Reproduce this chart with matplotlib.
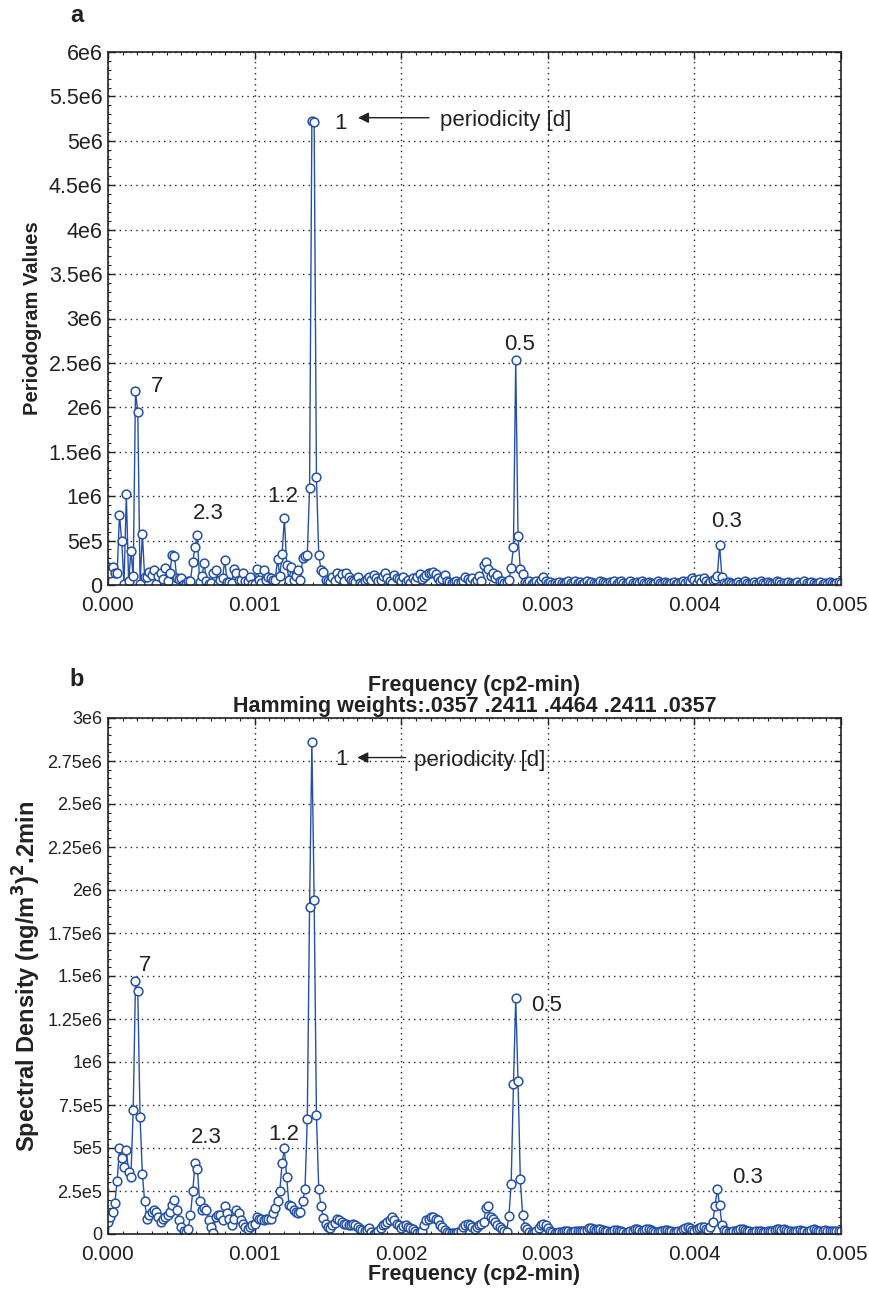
import matplotlib
matplotlib.use("Agg")
import matplotlib.pyplot as plt
import numpy as np
from matplotlib.ticker import MultipleLocator, FixedLocator, FixedFormatter

plt.rcParams['font.family'] = ['Liberation Sans', 'DejaVu Sans']

# frequency axis (cycles per 2-min), 321 bins from 0 to 0.005
freq = np.linspace(0, 0.005, 321)

# periodogram values, units of 1e5
per_a = [
    2.0, 1.35, 2.0, 1.4, 1.3, 7.9, 4.9, 0.1, 10.2, 0.4,
    3.8, 1.0, 21.8, 19.5, 0.1, 5.7, 0.9, 0.9, 1.5, 1.1,
    1.7, 0.1, 1.0, 1.3, 0.7, 1.9, 0.5, 1.3, 3.4, 3.3,
    0.8, 0.7, 0.8, 0.1, 0.1, 0.4, 0.5, 2.6, 4.3, 5.6,
    0.3, 1.0, 2.5, 0.4, 0.1, 0.2, 1.3, 1.7, 0.1, 0.6,
    0.8, 2.8, 0.3, 0.3, 0.2, 1.8, 1.4, 0.6, 0.6, 1.4,
    0.5, 0.4, 0.9, 0.1, 0.1, 1.8, 0.6, 0.2, 1.7, 0.6,
    0.9, 0.8, 0.6, 0.6, 2.9, 1.0, 3.5, 7.5, 2.3, 0.6,
    2.0, 0.6, 1.0, 1.7, 0.6, 3.0, 3.3, 3.4, 10.9, 52.2,
    52.1, 12.2, 3.4, 1.7, 1.5, 0.6, 0.5, 0.3, 0.9, 0.4,
    1.4, 0.8, 1.2, 0.5, 1.3, 0.9, 0.6, 0.4, 0.3, 0.9,
    0.2, 0.1, 0.5, 0.7, 0.9, 0.6, 1.1, 0.8, 0.4, 0.6,
    1.0, 1.3, 0.8, 0.5, 0.2, 1.1, 0.8, 0.7, 0.4, 0.9,
    0.3, 0.6, 0.2, 0.8, 0.5, 0.9, 1.2, 0.7, 0.9, 1.1,
    1.3, 1.4, 1.5, 1.2, 0.8, 0.4, 0.7, 1.1, 0.5, 0.3,
    0.2, 0.3, 0.4, 0.2, 0.3, 0.5, 0.9, 0.7, 0.4, 0.8,
    0.3, 0.6, 1.0, 0.4, 2.3, 2.6, 1.8, 1.0, 1.3, 0.8,
    1.1, 0.5, 0.4, 0.2, 0.3, 0.6, 1.9, 4.3, 25.3, 5.5,
    1.8, 1.2, 0.3, 0.2, 0.5, 0.1, 0.3, 0.4, 0.2, 0.6,
    0.9, 0.4, 0.2, 0.3, 0.1, 0.2, 0.1, 0.3, 0.2, 0.1,
    0.3, 0.5, 0.2, 0.1, 0.4, 0.2, 0.3, 0.1, 0.2, 0.4,
    0.1, 0.3, 0.2, 0.1, 0.2, 0.5, 0.3, 0.2, 0.1, 0.3,
    0.2, 0.4, 0.1, 0.3, 0.5, 0.2, 0.1, 0.2, 0.4, 0.2,
    0.1, 0.3, 0.2, 0.5, 0.2, 0.1, 0.3, 0.2, 0.1, 0.2,
    0.4, 0.2, 0.1, 0.3, 0.2, 0.1, 0.2, 0.3, 0.1, 0.2,
    0.3, 0.4, 0.2, 0.5, 0.3, 0.8, 0.6, 0.2, 0.7, 0.3,
    0.8, 0.4, 0.1, 0.3, 0.6, 0.7, 1.0, 4.5, 0.9, 0.2,
    0.1, 0.3, 0.2, 0.1, 0.2, 0.3, 0.1, 0.2, 0.4, 0.2,
    0.1, 0.2, 0.3, 0.1, 0.2, 0.4, 0.2, 0.1, 0.3, 0.2,
    0.1, 0.2, 0.4, 0.3, 0.1, 0.2, 0.1, 0.3, 0.2, 0.1,
    0.2, 0.3, 0.1, 0.2, 0.4, 0.2, 0.1, 0.3, 0.2, 0.1,
    0.2, 0.3, 0.1, 0.2, 0.1, 0.3, 0.2, 0.1, 0.2, 0.3,
    0.2,
]

# smoothed spectral density, units of 1e5
dens_b = [
    0.7, 1.0, 1.3, 1.8, 3.1, 5.0, 4.4, 3.9, 4.9, 3.6,
    3.3, 7.2, 14.7, 14.1, 6.8, 3.5, 1.9, 0.9, 1.1, 1.3,
    1.4, 1.3, 1.0, 0.7, 0.9, 1.0, 1.1, 1.3, 1.7, 2.0,
    1.4, 0.8, 0.4, 0.2, 0.1, 0.3, 1.1, 2.5, 4.1, 3.8,
    1.9, 1.4, 1.5, 1.4, 0.8, 0.4, 0.05, 1.0, 1.1, 1.1,
    0.8, 1.6, 1.2, 0.9, 0.5, 0.9, 1.4, 1.2, 0.8, 0.6,
    0.4, 0.3, 0.4, 0.5, 0.6, 1.0, 0.9, 0.9, 0.8, 0.9,
    0.9, 0.9, 1.2, 1.5, 1.9, 2.5, 4.1, 5.0, 3.3, 1.7,
    1.6, 1.4, 1.3, 1.25, 1.3, 1.9, 2.6, 6.7, 19.0, 28.6,
    19.4, 6.9, 2.6, 1.6, 0.95, 0.6, 0.4, 0.33, 0.5, 0.65,
    0.85, 0.8, 0.7, 0.6, 0.6, 0.5, 0.5, 0.6, 0.5, 0.4,
    0.3, 0.25, 0.2, 0.25, 0.33, 0.1, 0.0, 0.05, 0.2, 0.35,
    0.5, 0.6, 0.7, 0.8, 1.0, 0.8, 0.6, 0.5, 0.35, 0.45,
    0.5, 0.4, 0.35, 0.3, 0.15, 0.05, 0.1, 0.2, 0.5, 0.8,
    0.9, 1.0, 1.0, 0.9, 0.8, 0.5, 0.4, 0.25, 0.1, 0.05,
    0.05, 0.05, 0.05, 0.1, 0.2, 0.4, 0.5, 0.6, 0.5, 0.4,
    0.3, 0.4, 0.5, 0.6, 0.7, 1.5, 1.6, 1.0, 0.9, 0.7,
    0.5, 0.4, 0.3, 0.2, 0.1, 1.05, 2.9, 8.7, 13.7, 8.9,
    3.2, 1.1, 0.4, 0.3, 0.1, 0.05, 0.1, 0.2, 0.35, 0.5,
    0.6, 0.5, 0.35, 0.2, 0.1, 0.05, 0.05, 0.1, 0.1, 0.15,
    0.2, 0.15, 0.1, 0.1, 0.15, 0.2, 0.2, 0.15, 0.2, 0.25,
    0.35, 0.35, 0.3, 0.25, 0.3, 0.3, 0.25, 0.2, 0.15, 0.1,
    0.2, 0.25, 0.25, 0.2, 0.15, 0.1, 0.05, 0.1, 0.15, 0.2,
    0.3, 0.3, 0.25, 0.2, 0.25, 0.3, 0.3, 0.25, 0.15, 0.1,
    0.1, 0.15, 0.2, 0.25, 0.25, 0.2, 0.15, 0.1, 0.1, 0.15,
    0.2, 0.3, 0.35, 0.4, 0.35, 0.25, 0.2, 0.3, 0.35, 0.4,
    0.4, 0.3, 0.25, 0.4, 0.7, 1.65, 2.6, 1.7, 0.5, 0.25,
    0.15, 0.1, 0.1, 0.15, 0.2, 0.25, 0.3, 0.3, 0.25, 0.2,
    0.15, 0.1, 0.1, 0.15, 0.2, 0.15, 0.1, 0.1, 0.15, 0.2,
    0.2, 0.25, 0.3, 0.3, 0.25, 0.3, 0.25, 0.2, 0.15, 0.1,
    0.15, 0.2, 0.25, 0.2, 0.15, 0.1, 0.15, 0.25, 0.3, 0.25,
    0.2, 0.15, 0.2, 0.25, 0.2, 0.15, 0.15, 0.2, 0.2, 0.15,
    0.15,
]

# peak labels (period in days) and where they sit
labels_a = ['7', '2.3', '1.2', '0.5', '0.3']
labx_a = [0.000332, 0.000682, 0.001194, 0.002804, 0.004222]
laby_a = [2.23e6, 8.1e5, 1.0e6, 2.71e6, 7.1e5]

labels_b = ['7', '2.3', '1.2', '0.5', '0.3']
labx_b = [0.000252, 0.000668, 0.0012, 0.002993, 0.004366]
laby_b = [1.56e6, 5.6e5, 5.8e5, 1.33e6, 3.3e5]

yt_a = [0, 5e5, 1e6, 1.5e6, 2e6, 2.5e6, 3e6, 3.5e6, 4e6, 4.5e6, 5e6, 5.5e6, 6e6]
ytl_a = ['0', '5e5', '1e6', '1.5e6', '2e6', '2.5e6', '3e6', '3.5e6', '4e6',
         '4.5e6', '5e6', '5.5e6', '6e6']
yt_b = [0, 2.5e5, 5e5, 7.5e5, 1e6, 1.25e6, 1.5e6, 1.75e6, 2e6, 2.25e6, 2.5e6,
        2.75e6, 3e6]
ytl_b = ['0', '2.5e5', '5e5', '7.5e5', '1e6', '1.25e6', '1.5e6', '1.75e6',
         '2e6', '2.25e6', '2.5e6', '2.75e6', '3e6']
xt = [0, 0.001, 0.002, 0.003, 0.004, 0.005]
xtl = ['0.000', '0.001', '0.002', '0.003', '0.004', '0.005']

blue = '#2450a8'
ink = '#222222'
W, H = 869, 1293
fig = plt.figure(figsize=(W / 100, H / 100), dpi=100)

axA = fig.add_axes([108 / W, 1 - 585 / H, 733 / W, 533 / H])
axB = fig.add_axes([108 / W, 1 - 1234 / H, 733 / W, 516 / H])


def style(ax, yt, ytl, ymax, yminor, ysize):
    ax.set_xlim(0, 0.005)
    ax.set_ylim(0, ymax)
    ax.xaxis.set_major_locator(FixedLocator(xt))
    ax.xaxis.set_major_formatter(FixedFormatter(xtl))
    ax.yaxis.set_major_locator(FixedLocator(yt))
    ax.yaxis.set_major_formatter(FixedFormatter(ytl))
    ax.xaxis.set_minor_locator(MultipleLocator(0.0001))
    ax.yaxis.set_minor_locator(MultipleLocator(yminor))
    ax.tick_params(which='both', direction='in', top=True, right=True,
                   colors=ink)
    ax.tick_params(axis='x', labelsize=15, pad=8)
    ax.tick_params(axis='y', labelsize=ysize, pad=4)
    ax.tick_params(which='major', length=5, width=1)
    ax.tick_params(which='minor', length=2.5, width=0.8)
    ax.grid(True, which='major', linestyle=(0, (1, 3)), color=ink,
            linewidth=1.0)
    for s in ax.spines.values():
        s.set_linewidth(1.2)
        s.set_color(ink)


axA.plot(freq, np.array(per_a) * 1e5, '-o', color=blue, lw=1.0, ms=6.3,
         mfc='white', mec=blue, mew=1.1)
style(axA, yt_a, ytl_a, 6e6, 1e5, 15.5)
axA.set_ylabel('Periodogram Values', fontsize=14.5, fontweight='bold',
               labelpad=5, color=ink)
for t, x, y in zip(labels_a, labx_a, laby_a):
    axA.text(x, y, t, fontsize=16, ha='center', va='center', color=ink)
axA.text(0.001583, 5.2e6, '1', fontsize=16, ha='center', va='center',
         color=ink)
axA.annotate('', xy=(0.001705, 5.26e6), xytext=(0.00219, 5.26e6),
             arrowprops=dict(arrowstyle='-|>', color=ink, lw=1.0,
                             mutation_scale=16, shrinkA=0, shrinkB=0))
axA.text(0.002265, 5.23e6, 'periodicity [d]', fontsize=16, ha='left',
         va='center', color=ink)

axB.plot(freq, np.array(dens_b) * 1e5, '-o', color=blue, lw=1.0, ms=6.3,
         mfc='white', mec=blue, mew=1.1)
style(axB, yt_b, ytl_b, 3e6, 5e4, 13)
axB.set_ylabel('Spectral Density (ng/m$\\mathbf{^3}$)$\\mathbf{^2}$.2min',
               fontsize=17, fontweight='bold', labelpad=3, color=ink)
axB.set_xlabel('Frequency (cp2-min)', fontsize=15.5, fontweight='bold',
               labelpad=0, color=ink)
axB.set_title('Frequency (cp2-min)\nHamming weights:.0357 .2411 .4464 .2411 .0357',
              fontsize=15.5, fontweight='bold', pad=4, linespacing=1.0,
              color=ink)
for t, x, y in zip(labels_b, labx_b, laby_b):
    axB.text(x, y, t, fontsize=16, ha='center', va='center', color=ink)
axB.text(0.00159, 2.76e6, '1', fontsize=16, ha='center', va='center',
         color=ink)
axB.annotate('', xy=(0.0017, 2.77e6), xytext=(0.00203, 2.77e6),
             arrowprops=dict(arrowstyle='-|>', color=ink, lw=1.0,
                             mutation_scale=16, shrinkA=0, shrinkB=0))
axB.text(0.00209, 2.755e6, 'periodicity [d]', fontsize=16, ha='left',
         va='center', color=ink)

fig.text(77 / W, 1 - 15 / H, 'a', fontsize=17, fontweight='bold',
         ha='center', va='center', color=ink)
fig.text(77 / W, 1 - 680 / H, 'b', fontsize=17, fontweight='bold',
         ha='center', va='center', color=ink)

fig.savefig('out.png', dpi=100)
